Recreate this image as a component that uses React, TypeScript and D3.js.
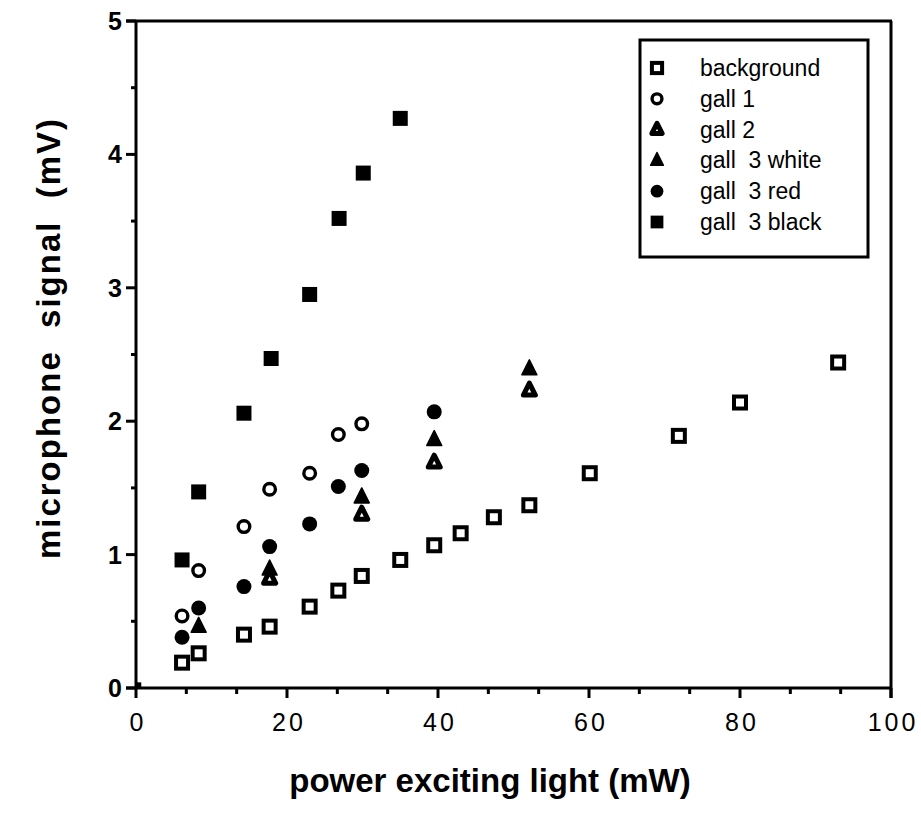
import React from "react";
import * as d3 from "d3";

const bgX = [6.1, 8.3, 14.3, 17.7, 23.0, 26.8, 29.9, 35.0, 39.5, 43.0, 47.4, 52.1, 60.1, 71.9, 80.0, 93.0];
const bgY = [0.19, 0.26, 0.40, 0.46, 0.61, 0.73, 0.84, 0.96, 1.07, 1.16, 1.28, 1.37, 1.61, 1.89, 2.14, 2.44];
const gall1X = [6.1, 8.3, 14.3, 17.7, 23.0, 26.8, 29.9];
const gall1Y = [0.54, 0.88, 1.21, 1.49, 1.61, 1.90, 1.98];
const gall2X = [17.7, 29.9, 39.5, 52.1];
const gall2Y = [0.82, 1.30, 1.69, 2.23];
const whiteX = [8.3, 17.7, 29.9, 39.5, 52.1];
const whiteY = [0.46, 0.89, 1.43, 1.86, 2.39];
const redX = [6.1, 8.3, 14.3, 17.7, 23.0, 26.8, 29.9, 39.5];
const redY = [0.38, 0.60, 0.76, 1.06, 1.23, 1.51, 1.63, 2.07];
const blackX = [6.1, 8.3, 14.3, 17.9, 23.0, 26.9, 30.1, 35.0];
const blackY = [0.96, 1.47, 2.06, 2.47, 2.95, 3.52, 3.86, 4.27];
const originX = [0.3];
const originY = [0.02];

const xMajor = [0, 20, 40, 60, 80, 100];
const yMajor = [0, 1, 2, 3, 4, 5];
const legendLabels = ["background", "gall 1", "gall 2", "gall  3 white", "gall  3 red", "gall  3 black"];
const legendKinds = ["openSquare", "openCircle", "openTriangle", "triangle", "circle", "square"];

const W = 921, H = 828;
const x = d3.scaleLinear().domain([0, 100]).range([136, 891]);
const y = d3.scaleLinear().domain([0, 5]).range([688, 21]);

const FONT = "'Liberation Sans', Arial, Helvetica, sans-serif";

function Marker({ kind, cx, cy, k = 1 }: { kind: string; cx: number; cy: number; k?: number }) {
  const tri = (s: number) =>
    `M${cx},${cy - s * 0.62} L${cx + s / 2},${cy + s * 0.38} L${cx - s / 2},${cy + s * 0.38} Z`;
  switch (kind) {
    case "openSquare":
      return <rect x={cx - 6 * k} y={cy - 6 * k} width={12 * k} height={12 * k} fill="#fff" stroke="#000" strokeWidth={4} />;
    case "square":
      return <rect x={cx - 7.5 * k} y={cy - 7.5 * k} width={15 * k} height={15 * k} fill="#000" />;
    case "tiny":
      return <rect x={cx - 3} y={cy - 3} width={6} height={6} fill="#000" />;
    case "openCircle":
      return <circle cx={cx} cy={cy} r={5.8 * k} fill="#fff" stroke="#000" strokeWidth={3.4} />;
    case "circle":
      return <circle cx={cx} cy={cy} r={7.5 * k} fill="#000" />;
    case "openTriangle":
      return <path d={tri(12 * k)} fill="#fff" stroke="#000" strokeWidth={5} strokeLinejoin="round" />;
    case "triangle":
      return <path d={tri(15 * k)} fill="#000" stroke="#000" strokeWidth={1.5} strokeLinejoin="round" />;
  }
  return null;
}

export default function App() {
  const xMinor = d3.range(0, 100.01, 20 / 3);
  const yMinor = d3.range(0, 5.01, 0.5);
  const series: [number[], number[], string][] = [
    [bgX, bgY, "openSquare"],
    [gall1X, gall1Y, "openCircle"],
    [redX, redY, "circle"],
    [gall2X, gall2Y, "openTriangle"],
    [whiteX, whiteY, "triangle"],
    [blackX, blackY, "square"],
    [originX, originY, "tiny"],
  ];
  const x0 = x(0), x1 = x(100), y0 = y(0), y1 = y(5);
  return (
    <svg width={W} height={H} style={{ position: "absolute", left: 0, top: 0, background: "#fff" }}>
      <g stroke="#000" strokeWidth={3} fill="none">
        <line x1={x0 - 10} y1={y1} x2={x1 + 1} y2={y1} />
        <line x1={x0} y1={y1} x2={x0} y2={y0 + 1} />
        <line x1={x1} y1={y1} x2={x1} y2={y0 + 10} />
        <line x1={x0 - 10} y1={y0} x2={x1 + 1} y2={y0} />
      </g>
      <g stroke="#000" strokeWidth={3}>
        {xMinor.map((v, i) => (
          <line key={"xm" + i} x1={x(v)} y1={y0} x2={x(v)} y2={y0 + (i % 3 === 0 ? 10 : 6)} />
        ))}
        {yMinor.map((v, i) => (
          <line key={"ym" + i} x1={x0} y1={y(v)} x2={x0 - (i % 2 === 0 ? 10 : 5)} y2={y(v)} />
        ))}
      </g>
      <g fontFamily={FONT} fontSize={25} fill="#000">
        {xMajor.map((v) => (
          <text key={"xl" + v} x={x(v) + 2} y={y0 + 43} textAnchor="middle" letterSpacing={3}>
            {v}
          </text>
        ))}
        {yMajor.map((v) => (
          <text key={"yl" + v} x={x0 - 14} y={y(v) + 9} textAnchor="end" fontWeight="bold">
            {v}
          </text>
        ))}
      </g>
      <text x={490} y={792} textAnchor="middle" fontFamily={FONT} fontWeight="bold" fontSize={33}>
        power exciting light (mW)
      </text>
      <text
        transform={`translate(60,338) rotate(-90)`}
        textAnchor="middle"
        fontFamily={FONT}
        fontWeight="bold"
        fontSize={33}
        style={{ whiteSpace: "pre" }}
        letterSpacing={2}
      >
        {"microphone  signal  (mV)"}
      </text>
      {series.map(([xs, ys, kind], si) => (
        <g key={"s" + si}>
          {xs.map((v, i) => (
            <Marker key={i} kind={kind} cx={x(v)} cy={y(ys[i])} />
          ))}
        </g>
      ))}
      <rect x={640} y={40} width={228} height={217} fill="#fff" stroke="#000" strokeWidth={3} />
      {legendLabels.map((lab, i) => (
        <g key={"lg" + i}>
          <Marker kind={legendKinds[i]} cx={657} cy={68 + i * 30.8} k={0.85} />
          <text x={700} y={68 + i * 30.8 + 8} fontFamily={FONT} fontSize={23} style={{ whiteSpace: "pre" }}>
            {lab}
          </text>
        </g>
      ))}
    </svg>
  );
}
